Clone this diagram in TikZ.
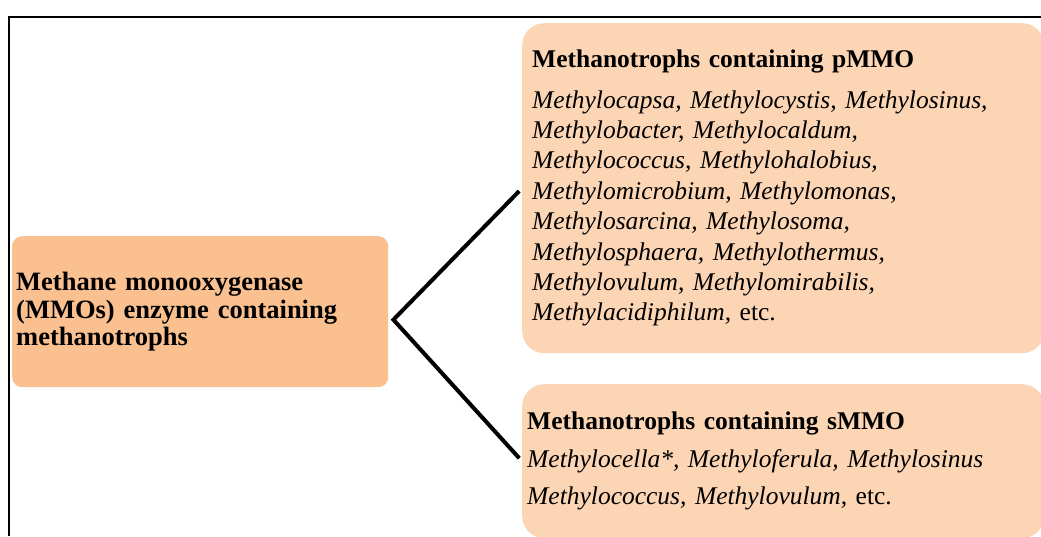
\documentclass[tikz,border=0pt]{standalone}
\usepackage{fontspec}
\setmainfont{Liberation Serif}
\usetikzlibrary{positioning}
\definecolor{mmoorange}{RGB}{250,192,144}
\definecolor{mmopeach}{RGB}{252,213,181}
\begin{document}
\begin{tikzpicture}[x=1pt,y=-1pt]
    \tikzstyle{every node}=[inner sep=0pt, align=left, anchor=north west]
    \tikzstyle{enzyme box}=[fill=mmoorange, rounded corners=10pt, inner xsep=4pt,
        text width=368pt, minimum height=151pt, font=\fontsize{26.5}{27.5}\selectfont\bfseries]
    \tikzstyle{group box}=[fill=mmopeach, rounded corners=22pt, minimum width=522pt]
    \tikzstyle{link}=[line width=4pt, shorten <=4pt, shorten >=4pt]

    \useasboundingbox (0,0) rectangle (1041,536);

    % Draw the frame
    \draw[line width=1.5pt] (9,536) |- (1041,17);

    % Draw the enzyme node
    \node[enzyme box] (mmo) at (12,236)
        {Methane monooxygenase\\(MMOs) enzyme containing\\methanotrophs};

    % Draw the two groups of methanotrophs
    \node[group box, inner xsep=10pt, text width=502pt, minimum height=330pt,
        font=\fontsize{25.5}{30.4}\selectfont] (pmmo) at (522,23)
        {\textbf{Methanotrophs containing pMMO}\\[10pt]
        \textit{Methylocapsa, Methylocystis, Methylosinus,}\\
        \textit{Methylobacter, Methylocaldum,}\\
        \textit{Methylococcus, Methylohalobius,}\\
        \textit{Methylomicrobium, Methylomonas,}\\
        \textit{Methylosarcina, Methylosoma,}\\
        \textit{Methylosphaera, Methylothermus,}\\
        \textit{Methylovulum, Methylomirabilis,}\\
        \textit{Methylacidiphilum,} etc.};
    \node[group box, inner xsep=5pt, text width=512pt, minimum height=154pt,
        font=\fontsize{25.5}{37.5}\selectfont] (smmo) at (522,384)
        {\textbf{Methanotrophs containing sMMO}\\
        \textit{Methylocella*, Methyloferula, Methylosinus}\\
        \textit{Methylococcus, Methylovulum,} etc.};

    % Connect the enzyme node with both groups
    \coordinate (fork) at ([xshift=5pt,yshift=-8pt]mmo.east);
    \draw[link] (pmmo.west) -- (fork) -- (smmo.west);
\end{tikzpicture}
\end{document}
